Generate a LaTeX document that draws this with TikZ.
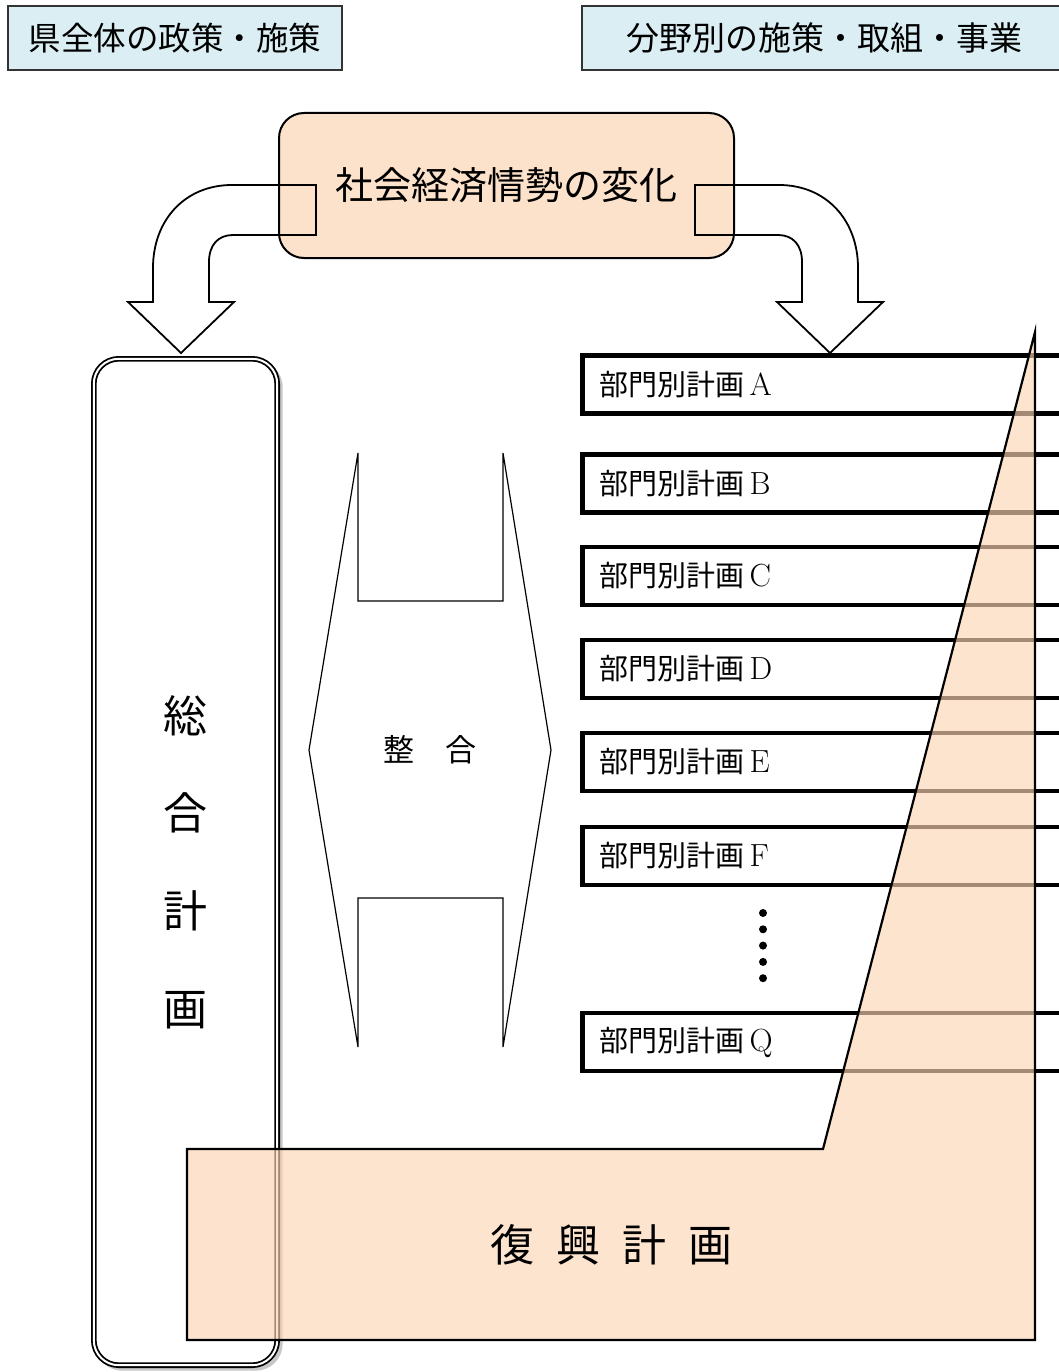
\documentclass[tikz,border=0pt]{standalone}
\usepackage{fontspec}
\newfontfamily\jp{Noto Sans CJK JP}
\usetikzlibrary{positioning}
\definecolor{peach}{RGB}{252,213,180}
\definecolor{paleblue}{RGB}{218,238,243}
\tikzstyle{headbox}=[draw=black!80, line width=1.5pt, fill=paleblue, minimum height=64pt, inner sep=0pt, outer sep=0pt]
\tikzstyle{partbox}=[draw, line width=4.5pt, minimum height=58pt, text width=466pt, inner xsep=17pt, align=left, outer sep=0pt, anchor=west, font=\jp\fontsize{29pt}{29pt}\selectfont]
\tikzstyle{blockarrow}=[draw, line width=1.8pt, line join=miter]
\tikzstyle{roundbox}=[rounded corners=25pt, minimum width=183.4pt, minimum height=1006.4pt, inner sep=0pt, outer sep=0pt]

\begin{document}
\begin{tikzpicture}[x=1pt, y=-1pt]
\useasboundingbox (0,0) rectangle (1059,1372);
\clip (0,0) rectangle (1059,1372);

% headings
\node[headbox, minimum width=334pt, font=\jp\fontsize{32.5pt}{32.5pt}\selectfont] (prefecture) at (175,38) {県全体の政策・施策};
\node[headbox, minimum width=484pt, font=\jp\fontsize{33pt}{33pt}\selectfont] (fields) at (824,38) {分野別の施策・取組・事業};

% change of conditions, with the two bent arrows
\node[draw, line width=2pt, rounded corners=25pt, fill=peach!70, minimum width=455pt, minimum height=145pt, font=\jp\fontsize{38pt}{38pt}\selectfont] (change) at (506.5,185.5) {社会経済情勢の変化};
\draw[blockarrow] (316,185) -- (232,185) .. controls (185,185) and (153,220) .. (153,268) -- (153,302) -- (128,302) -- (181,353) -- (234,302) -- (209,302) -- (209,262) .. controls (209,245) and (218,235) .. (233,235) -- (316,235) -- cycle;
\begin{scope}[xshift=1011pt, xscale=-1]
\draw[blockarrow] (316,185) -- (232,185) .. controls (185,185) and (153,220) .. (153,268) -- (153,302) -- (128,302) -- (181,353) -- (234,302) -- (209,302) -- (209,262) .. controls (209,245) and (218,235) .. (233,235) -- (316,235) -- cycle;
\end{scope}

% general plan
\node[roundbox, draw=black!22, line width=4pt] (planshadow) at (189,865.5) {};
\node[roundbox, draw, fill=white, line width=1.8pt, double, double distance=2pt, align=center, font=\jp\fontsize{44pt}{97.7pt}\selectfont] (plan) at (185.5,862) {総\\合\\計\\画};

% adjustment between plans
\draw[line width=1.2pt] (309,750) -- (358,453) -- (358,601) -- (503,601) -- (503,453) -- (551,750) -- (503,1047) -- (503,898) -- (358,898) -- (358,1047) -- cycle;
\node[font=\jp\fontsize{31pt}{31pt}\selectfont] (adjust) at (430,750) {整\hspace{1em}合};

% sector plans
\foreach \ypos/\name in {384.5/A, 483.5/B, 576/C, 669/D, 762/E, 856/F, 1042/Q}
\node[partbox] (part\name) at (582.5,\ypos) {部門別計画\hspace{5pt}{\rmfamily\fontsize{32pt}{32pt}\selectfont\name}};
\foreach \k in {0,...,4}
\fill (763,913+16.3*\k) circle (4pt);

% recovery plan over everything
\draw[fill=peach, fill opacity=0.65, line width=2.2pt, line join=miter] (187,1149) -- (823,1149) -- (1035,332) -- (1035,1340) -- (187,1340) -- cycle;
\node[font=\jp\fontsize{44pt}{44pt}\selectfont] (recovery) at (611,1245) {復\hspace{22pt}興\hspace{22pt}計\hspace{22pt}画};

\end{tikzpicture}
\end{document}
